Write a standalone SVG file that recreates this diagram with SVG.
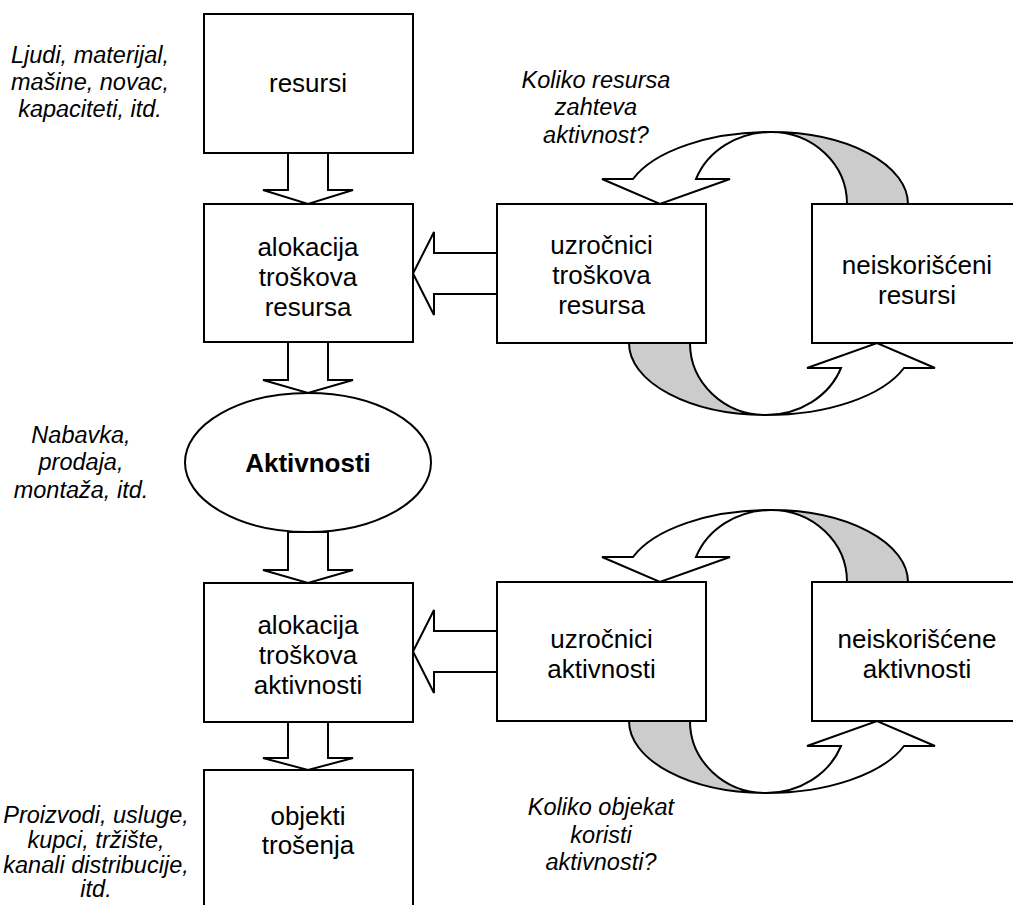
<svg xmlns="http://www.w3.org/2000/svg" width="1013" height="905" viewBox="0 0 1013 905">
  <style>
    .box { fill: #ffffff; stroke: #000000; stroke-width: 2; }
    .arrow { fill: #ffffff; stroke: #000000; stroke-width: 2; stroke-linejoin: miter; }
    .back { fill: #cccccc; stroke: #000000; stroke-width: 2; }
    .lbl { font-family: "Liberation Sans", Arial, sans-serif; font-size: 26px; fill: #000000; text-anchor: middle; }
    .bold { font-weight: bold; }
    .note { font-family: "Liberation Sans", Arial, sans-serif; font-size: 23.5px; font-style: italic; fill: #000000; text-anchor: middle; }
  </style>
  <defs>
    <!-- loop arrows between a driver box and its "unused" box -->
    <g id="loop">
      <!-- upper arc: from the unused box back down onto the driver box -->
      <path class="back" d="M 847 204 A 76 72 0 0 0 771 132 A 137 72 0 0 1 908 204 Z"/>
      <path class="arrow" d="M 771 132 A 147 72 0 0 0 633 179 L 602 179 L 660 204 L 730 179 L 696 179 A 80 72 0 0 1 771 132 Z"/>
      <!-- lower arc: from the driver box up into the unused box -->
      <path class="back" d="M 690 343 A 76 72 0 0 0 766 415 A 137 72 0 0 1 629 343 Z"/>
      <path class="arrow" d="M 766 415 A 147 72 0 0 0 904 368 L 935 368 L 877 343 L 807 368 L 841 368 A 80 72 0 0 1 766 415 Z"/>
    </g>
  </defs>

  <!-- connectors -->
  <g id="connectors">
    <polygon class="arrow" points="288,153 328,153 328,190 353,190 308,204 263,190 288,190"/>
    <polygon class="arrow" points="288,342 328,342 328,380 353,380 308,393 263,380 288,380"/>
    <polygon class="arrow" points="288,532 328,532 328,570 353,570 308,583 263,570 288,570"/>
    <polygon class="arrow" points="288,722 328,722 328,758 353,758 308,770 263,758 288,758"/>
    <polygon class="arrow" points="497,253 434,253 434,232 413,273.5 434,315 434,294 497,294"/>
    <polygon class="arrow" points="497,631 434,631 434,610 413,651.5 434,693 434,672 497,672"/>
    <use href="#loop"/>
    <use href="#loop" transform="translate(0 378)"/>
  </g>

  <!-- left column -->
  <g id="resursi">
    <rect class="box" x="204" y="14" width="209" height="139"/>
    <text class="lbl" x="308" y="92">resursi</text>
  </g>
  <g id="alokacija-resursa">
    <rect class="box" x="204" y="204" width="209" height="138"/>
    <text class="lbl" x="308" y="256">alokacija</text>
    <text class="lbl" x="308" y="286">troškova</text>
    <text class="lbl" x="308" y="316">resursa</text>
  </g>
  <g id="aktivnosti">
    <ellipse class="box" cx="308" cy="462.5" rx="123" ry="69.5"/>
    <text class="lbl bold" x="308" y="472">Aktivnosti</text>
  </g>
  <g id="alokacija-aktivnosti">
    <rect class="box" x="204" y="583" width="209" height="139"/>
    <text class="lbl" x="308" y="634">alokacija</text>
    <text class="lbl" x="308" y="664">troškova</text>
    <text class="lbl" x="308" y="694">aktivnosti</text>
  </g>
  <g id="objekti">
    <rect class="box" x="204" y="770" width="209" height="150"/>
    <text class="lbl" x="308" y="825">objekti</text>
    <text class="lbl" x="308" y="854">trošenja</text>
  </g>

  <!-- right side -->
  <g id="uzrocnici-resursa">
    <rect class="box" x="497" y="204" width="209" height="139"/>
    <text class="lbl" x="601.5" y="254">uzročnici</text>
    <text class="lbl" x="601.5" y="284">troškova</text>
    <text class="lbl" x="601.5" y="314">resursa</text>
  </g>
  <g id="neiskorisceni-resursi">
    <rect class="box" x="812" y="204" width="210" height="139"/>
    <text class="lbl" x="917" y="274">neiskorišćeni</text>
    <text class="lbl" x="917" y="304">resursi</text>
  </g>
  <g id="uzrocnici-aktivnosti">
    <rect class="box" x="497" y="582" width="209" height="139"/>
    <text class="lbl" x="601.5" y="648">uzročnici</text>
    <text class="lbl" x="601.5" y="678">aktivnosti</text>
  </g>
  <g id="neiskoriscene-aktivnosti">
    <rect class="box" x="812" y="582" width="210" height="139"/>
    <text class="lbl" x="917" y="648">neiskorišćene</text>
    <text class="lbl" x="917" y="678">aktivnosti</text>
  </g>

  <!-- side notes -->
  <g id="notes">
    <text class="note" x="90" y="63">Ljudi, materijal,</text>
    <text class="note" x="90" y="90">mašine, novac,</text>
    <text class="note" x="90" y="117">kapaciteti, itd.</text>

    <text class="note" x="81" y="443">Nabavka,</text>
    <text class="note" x="81" y="470">prodaja,</text>
    <text class="note" x="81" y="498">montaža, itd.</text>

    <text class="note" x="96" y="823">Proizvodi, usluge,</text>
    <text class="note" x="96" y="848">kupci, tržište,</text>
    <text class="note" x="96" y="873">kanali distribucije,</text>
    <text class="note" x="96" y="897">itd.</text>

    <text class="note" x="596" y="88">Koliko resursa</text>
    <text class="note" x="596" y="115">zahteva</text>
    <text class="note" x="596" y="143">aktivnost?</text>

    <text class="note" x="601" y="815">Koliko objekat</text>
    <text class="note" x="601" y="843">koristi</text>
    <text class="note" x="601" y="870">aktivnosti?</text>
  </g>
</svg>
